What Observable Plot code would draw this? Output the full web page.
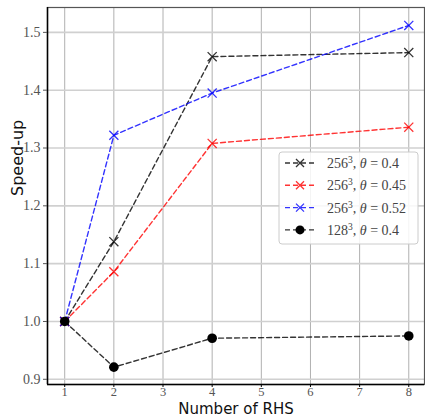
<!DOCTYPE html>
<html><head><meta charset="utf-8">
<script src="https://cdn.jsdelivr.net/npm/d3@7"></script>
<script src="https://cdn.jsdelivr.net/npm/@observablehq/plot@0.6"></script>
<style>
body{margin:0;background:#fff;}
#chart{position:relative;width:425px;height:416px;}
#chart svg g[aria-label$="tick label"] text{font-family:'Liberation Serif',serif;}
</style>
</head><body><div id="chart"></div>
<script>
const rhs = [1, 2, 4, 8];
const xTicks = [1, 2, 3, 4, 5, 6, 7, 8];
const yTicks = [0.9, 1.0, 1.1, 1.2, 1.3, 1.4, 1.5];
const s256_04 = [1.0, 1.138, 1.458, 1.465];
const s256_045 = [1.0, 1.086, 1.308, 1.336];
const s256_052 = [1.0, 1.322, 1.395, 1.512];
const s128_04 = [1.0, 0.921, 0.971, 0.975];
const seriesNames = ["a", "b", "c", "d"];
const seriesLabels = [
  ["256", "3", "0.4"],
  ["256", "3", "0.45"],
  ["256", "3", "0.52"],
  ["128", "3", "0.4"]
];
const seriesColors = ["#000", "#ff0000", "#0000ff", "#000"];
const seriesSymbols = ["times", "times", "times", "circle"];
const allVals = [s256_04, s256_045, s256_052, s128_04];

const rows = [];
allVals.forEach((vals, i) => vals.forEach((v, j) => rows.push({s: seriesNames[i], x: rhs[j], y: v})));

const serif = "'Liberation Serif', serif";
const sans = "'DejaVu Sans', sans-serif";

const marks = [
  Plot.gridX(xTicks, {stroke: "#b0b0b0", strokeOpacity: 1, strokeWidth: 1}),
  Plot.gridY(yTicks, {stroke: "#d0d0d0", strokeOpacity: 1, strokeWidth: 1.6}),
  Plot.frame({stroke: "#555", strokeWidth: 1.2}),
  Plot.ruleX([0.65], {stroke: "#000", strokeWidth: 1.5}),
  Plot.ruleY([0.891], {stroke: "#000", strokeWidth: 1.5})
];
seriesNames.forEach((n, i) => {
  const d = rows.filter(r => r.s === n);
  marks.push(Plot.line(d, {x: "x", y: "y", stroke: seriesColors[i], strokeOpacity: 0.8, strokeWidth: 1.4, strokeDasharray: "5,3"}));
  if (seriesSymbols[i] === "circle") {
    marks.push(Plot.dot(d, {x: "x", y: "y", r: 4.8, fill: "#000", stroke: "none"}));
  } else {
    marks.push(Plot.dot(d, {x: "x", y: "y", symbol: "times", r: 4.2, stroke: seriesColors[i], strokeOpacity: 0.8, strokeWidth: 1.3}));
  }
});
marks.push(
  Plot.axisX(xTicks, {tickSize: 3, tickPadding: 0, fontSize: 12.5, label: null, stroke: "#000", color: "#555"}),
  Plot.axisY(yTicks, {tickSize: 4, tickPadding: 3, fontSize: 14, label: null, tickFormat: d3.format(".1f"), color: "#555"}),
  Plot.text(["Number of RHS"], {frameAnchor: "bottom", lineAnchor: "bottom", dy: 29, fontSize: 15, fontFamily: sans, fill: "#111"}),
  Plot.text(["Speed-up"], {frameAnchor: "left", lineAnchor: "middle", dx: -30, rotate: -90, fontSize: 16, fontFamily: sans, fill: "#111"})
);

const plot = Plot.plot({
  width: 425, height: 416,
  marginLeft: 47, marginRight: 1, marginTop: 7, marginBottom: 32,
  x: {domain: [0.65, 8.32]},
  y: {domain: [0.891, 1.543]},
  style: {background: "#fff", overflow: "visible", fontSize: "14px"},
  marks
});
document.getElementById("chart").appendChild(plot);

const svg = d3.select(plot);

// Legend
const lg = svg.append("g").attr("transform", "translate(279,152)");
lg.append("rect").attr("width", 139).attr("height", 92).attr("rx", 3)
  .attr("fill", "rgba(255,255,255,0.85)").attr("stroke", "#ccc");
seriesLabels.forEach((lab, i) => {
  const y = 11 + i * 22.3;
  const g = lg.append("g").attr("transform", `translate(0,${y})`);
  g.append("line").attr("x1", 6).attr("x2", 38).attr("y1", 0).attr("y2", 0)
    .attr("stroke", seriesColors[i]).attr("stroke-opacity", 0.8).attr("stroke-width", 1.4).attr("stroke-dasharray", "5,3");
  if (seriesSymbols[i] === "circle") {
    g.append("circle").attr("cx", 21).attr("cy", 0).attr("r", 4.5).attr("fill", "#000");
  } else {
    g.append("path").attr("d", "M17,-4L25,4M17,4L25,-4").attr("stroke", seriesColors[i]).attr("stroke-opacity", 0.8).attr("stroke-width", 1.3);
  }
  const t = g.append("text").attr("x", 48).attr("y", 5).attr("text-anchor", "start")
    .attr("font-family", serif).attr("font-size", 14).attr("fill", "#444");
  t.append("tspan").text(lab[0]);
  t.append("tspan").attr("dy", -5).attr("font-size", 9.5).text(lab[1]);
  t.append("tspan").attr("dy", 5).text(", ");
  t.append("tspan").attr("font-style", "italic").text("θ");
  t.append("tspan").text(" = " + lab[2]);
});
</script></body></html>
